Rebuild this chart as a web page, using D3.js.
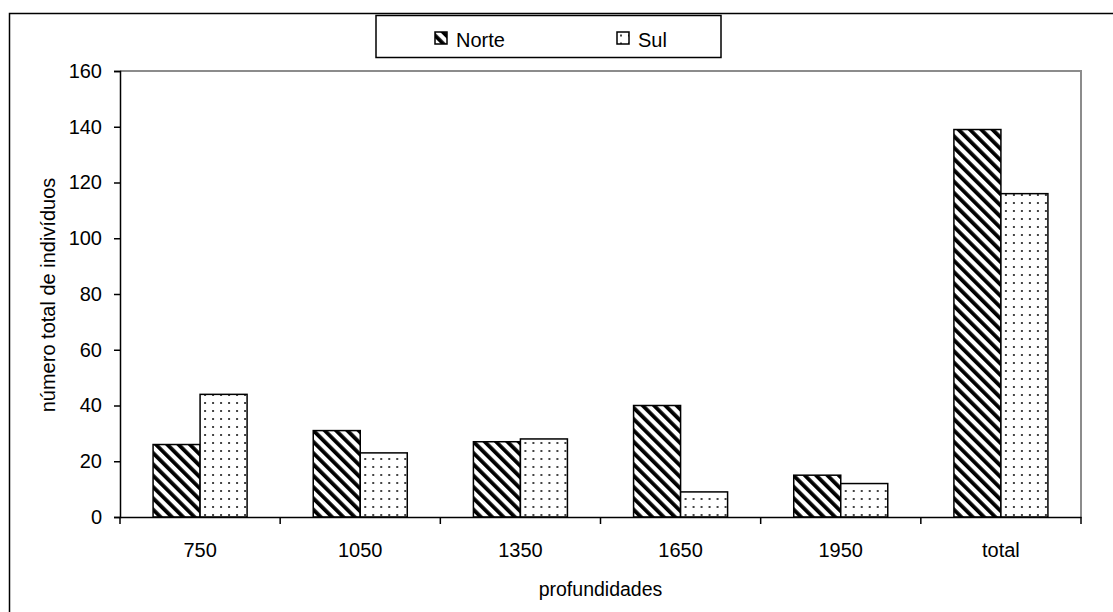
<!DOCTYPE html>
<html>
<head>
<meta charset="utf-8">
<script src="https://cdn.jsdelivr.net/npm/d3@7"></script>
<style>
  body { margin: 0; background: #fff; }
  svg { display: block; font-family: "Liberation Sans", Arial, sans-serif; }
</style>
</head>
<body>
<div id="chart"></div>
<script>
// values
var categories = ["750", "1050", "1350", "1650", "1950", "total"];
var seriesNames = ["Norte", "Sul"];
var norteValues = [26, 31, 27, 40, 15, 139];
var sulValues = [44, 23, 28, 9, 12, 116];
var yTicks = [0, 20, 40, 60, 80, 100, 120, 140, 160];

var svgWidth = 1113, svgHeight = 612;
var margin = {top: 71, right: 32, bottom: 95, left: 120},
    width = svgWidth - margin.left - margin.right,
    height = svgHeight - margin.top - margin.bottom;

var svg = d3.select("#chart").append("svg")
    .attr("width", svgWidth)
    .attr("height", svgHeight);

// fill patterns
var defs = svg.append("defs");
var stripes = defs.append("pattern")
    .attr("id", "stripes")
    .attr("patternUnits", "userSpaceOnUse")
    .attr("width", 8).attr("height", 8)
    .attr("patternTransform", "rotate(-45)");
stripes.append("rect").attr("width", 8).attr("height", 8).attr("fill", "#fff");
stripes.append("rect").attr("width", 3.8).attr("height", 8).attr("fill", "#000");

var dots = defs.append("pattern")
    .attr("id", "dots")
    .attr("patternUnits", "userSpaceOnUse")
    .attr("width", 8).attr("height", 8);
dots.append("rect").attr("width", 8).attr("height", 8).attr("fill", "#fff");
dots.append("rect").attr("x", 3).attr("y", 3).attr("width", 2).attr("height", 2).attr("fill", "#444");

var fills = {Norte: "url(#stripes)", Sul: "url(#dots)"};

// outer chart border (runs off the right and bottom of the picture)
svg.append("rect")
    .attr("x", 9.5).attr("y", 13.5)
    .attr("width", 1200).attr("height", 700)
    .attr("fill", "none")
    .attr("stroke", "#000")
    .attr("stroke-width", 1.5);

var g = svg.append("g")
    .attr("transform", "translate(" + margin.left + "," + margin.top + ")");

var x0 = d3.scaleBand()
    .domain(categories)
    .range([0, width])
    .paddingInner(0.413)
    .paddingOuter(0.2065);

var x1 = d3.scaleBand()
    .domain(seriesNames)
    .range([0, x0.bandwidth()]);

var y = d3.scaleLinear()
    .domain([0, 160])
    .range([height, 0]);

// gray plot area border, top and right
g.append("path")
    .attr("d", "M0," + y(160) + "H" + width + "V" + y(0))
    .attr("fill", "none")
    .attr("stroke", "#8c8c8c")
    .attr("stroke-width", 2);

var data = categories.map(function(c, i) {
  return {cat: c, values: [{name: "Norte", value: norteValues[i]}, {name: "Sul", value: sulValues[i]}]};
});

var groups = g.selectAll(".group")
    .data(data)
  .enter().append("g")
    .attr("class", "group")
    .attr("transform", function(d) { return "translate(" + x0(d.cat) + ",0)"; });

groups.selectAll("rect")
    .data(function(d) { return d.values; })
  .enter().append("rect")
    .attr("x", function(d) { return x1(d.name); })
    .attr("y", function(d) { return y(d.value); })
    .attr("width", x1.bandwidth())
    .attr("height", function(d) { return y(0) - y(d.value); })
    .attr("fill", function(d) { return fills[d.name]; })
    .attr("stroke", "#000")
    .attr("stroke-width", 1.5);

// y axis
var yAxis = g.append("g")
    .call(d3.axisLeft(y).tickValues(yTicks).tickSize(6).tickPadding(12));
yAxis.select(".domain").attr("stroke-width", 1.5);
yAxis.selectAll(".tick line").attr("stroke-width", 1.5);
yAxis.selectAll("text").style("font-size", "20px").attr("fill", "#000");

// x axis: labels centred, ticks between categories
var xAxis = g.append("g")
    .attr("transform", "translate(0," + height + ")")
    .call(d3.axisBottom(x0).tickSize(0).tickPadding(26).tickSizeOuter(0));
xAxis.select(".domain").attr("stroke-width", 1.5);
xAxis.selectAll("text").style("font-size", "20px").attr("fill", "#000");

var boundaries = d3.range(categories.length + 1).map(function(i) { return i * x0.step(); });
xAxis.selectAll(".sep")
    .data(boundaries)
  .enter().append("line")
    .attr("class", "sep")
    .attr("x1", function(d) { return d; })
    .attr("x2", function(d) { return d; })
    .attr("y1", 0).attr("y2", 7)
    .attr("stroke", "#000")
    .attr("stroke-width", 1.5);

// axis titles
g.append("text")
    .attr("x", width / 2)
    .attr("y", height + 79)
    .attr("text-anchor", "middle")
    .style("font-size", "19.5px")
    .text("profundidades");

g.append("text")
    .attr("transform", "translate(" + (55 - margin.left) + "," + (295 - margin.top) + ")rotate(-90)")
    .attr("text-anchor", "middle")
    .style("font-size", "20px")
    .text("número total de indivíduos");

// legend
var legend = svg.append("g").attr("transform", "translate(376,15.5)");
legend.append("rect")
    .attr("width", 345).attr("height", 42)
    .attr("fill", "#fff")
    .attr("stroke", "#000")
    .attr("stroke-width", 1.5);

var legendX = d3.scaleOrdinal().domain(seriesNames).range([59, 241]);
var items = legend.selectAll(".item")
    .data(seriesNames)
  .enter().append("g")
    .attr("class", "item")
    .attr("transform", function(d) { return "translate(" + legendX(d) + ",0)"; });

items.append("rect")
    .attr("y", 16.5)
    .attr("width", 12).attr("height", 12)
    .attr("fill", function(d) { return fills[d]; })
    .attr("stroke", "#000")
    .attr("stroke-width", 1.5);

items.append("text")
    .attr("x", 21)
    .attr("y", 31)
    .style("font-size", "20px")
    .text(function(d) { return d; });
</script>
</body>
</html>
